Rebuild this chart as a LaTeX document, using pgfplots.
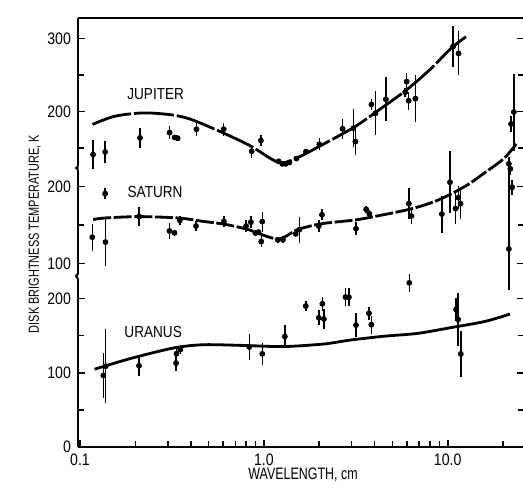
\documentclass[border=0pt]{standalone}
\usepackage{fontspec}
\setmainfont{Liberation Sans}[FakeStretch=0.85]
\newfontfamily\condfont{Liberation Sans}[FakeStretch=0.75]
\usepackage{pgfplots}
\pgfplotsset{compat=1.18}

\pgfplotsset{
  every axis/.append style={scale only axis, width=223pt,
    clip=false, anchor=south west,
    axis line style={line width=1.05pt,-}, tick align=inside,
    major tick length=3.5pt, minor tick length=3pt,
    tick style={black,line width=0.8pt}, yticklabel pos=left,
    tick label style={font=\fontsize{8.3}{9}\selectfont},
    /pgf/number format/assume math mode=true},
  crv/.style={black, line width=1.4pt, smooth, tension=0.5, no marks},
  pts/.style={black, only marks, mark=*, mark size=1.25pt,
    error bars/y dir=both, error bars/y explicit, error bars/error mark=none,
    error bars/error bar style={line width=0.75pt}},
}
\tikzset{brk/.style={line width=1.05pt}}

\begin{document}
\begin{tikzpicture}
\useasboundingbox (0,0) rectangle (261.5pt,244pt);

% jupiter
\begin{axis}[xmode=log, xmin=0.0975, xmax=26, at={(39pt,160.8pt)}, height=74pt, ymin=125, ymax=327.5,
  axis x line*=top, axis y line*=box, xtick=\empty,
  ytick={200,300}, minor ytick={150,250}]
\addplot[crv, dash pattern=on 20pt off 1.5pt] coordinates {(0.117,182.5) (0.155,193.7) (0.222,198.2) (0.317,195.4) (0.406,188.9) (0.612,169.9) (0.85,152.7) (1.2,130.5) (1.485,135.7) (2.046,153.7) (3.131,179.4) (4.41,205.6) (5.96,229.5) (8.05,258) (10.45,286.8) (12.85,304.2)};
\addplot[pts] coordinates {
 (0.1178,141.2) +- (0,19.5) (0.137,144.8) +- (0,15) (0.212,164) +- (0,13.7)
 (0.307,171.2) +- (0,9) (0.327,164.6) +- (0,4) (0.340,163.5) +- (0,4)
 (0.430,175.9) +- (0,9) (0.605,176) +- (0,9) (0.859,145.7) +- (0,9)
 (0.963,160.4) +- (0,8) (1.203,132) +- (0,3) (1.26,128.5) +- (0,3)
 (1.314,128.5) +- (0,3) (1.376,130.3) +- (0,3) (1.503,135.7) +- (0,3)
 (1.695,145.3) +- (0,4) (2.003,155.2) +- (0,8) (2.68,176.4) +- (0,13.7)
 (3.064,177.2) +- (0,26) (3.147,158.9) +- (0,18) (3.846,209.8) +- (0,8)
 (4.045,197.7) +- (0,30) (4.61,216.8) +- (0,30) (5.87,226.4) +- (0,6)
 (5.98,241) +- (0,12) (6.13,214.8) +- (0,12) (6.67,217.7) +- (0,32)
 (10.69,288.9) +- (0,28) (11.45,279.6) +- (0,30)};
\node[font=\fontsize{8}{9}\selectfont] at (axis cs:0.258,223.7) {JUPITER};
\draw[brk] (rel axis cs:0,0) to[out=-90,in=45] ++(-1.2pt,-1.2pt);
\end{axis}

% saturn
\begin{axis}[xmode=log, xmin=0.0975, xmax=26, at={(39pt,107.2pt)}, height=52pt, ymin=87, ymax=222,
  axis x line=none, axis y line*=box,
  ytick={100,200}, minor ytick={150}]
\addplot[crv, dash pattern=on 9pt off 1.3pt] coordinates {(0.118,157.2) (0.137,159.2) (0.2095,161) (0.343,159.2) (0.458,155.1) (0.613,151) (0.818,144.3) (1.187,132) (1.53,144.2) (2.056,151.7) (3.13,156.6) (4.03,161.3) (6.39,171.3) (8.98,183) (12.63,201.3) (16.3,219.8) (20.2,236.3) (23.6,255.2)};
\addplot[pts] coordinates {
 (0.1166,134.3) +- (0,17.4) (0.137,190.8) +- (0,7.6) (0.1375,128) +- (0,31)
 (0.2095,161) +- (0,12.3) (0.3066,142.3) +- (0,10) (0.3266,139.9) +- (0,4)
 (0.349,156.1) +- (0,6) (0.4274,148.8) +- (0,6.5) (0.606,154.9) +- (0,7)
 (0.80,148.7) +- (0,8) (0.85,153.8) +- (0,7.5) (0.90,139.6) +- (0,4)
 (0.935,140.8) +- (0,4) (0.98,154.5) +- (0,13) (0.968,128.6) +- (0,7)
 (1.19,130.8) +- (0,4) (1.27,130.9) +- (0,4) (1.49,138.6) +- (0,4)
 (1.56,144) +- (0,17) (1.99,148.7) +- (0,8) (2.07,163.4) +- (0,7)
 (3.17,145.3) +- (0,8.5) (3.6,170.4) +- (0,5) (3.75,164.5) +- (0,5)
 (6.15,177.9) +- (0,20) (6.35,161.8) +- (0,11) (9.29,164.3) +- (0,24)
 (10.29,205.6) +- (0,40) (11.03,171.4) +- (0,20) (11.41,185.6) +- (0,15)
 (11.74,177.8) +- (0,20) (22.9,296.7) +- (0,50) (22.1,281.4) +- (0,10)
 (21.5,229.6) +- (0,8) (21.9,223) +- (0,8) (22.4,199.1) +- (0,10)
 (21.5,119) += (0,119) -= (0,53)};
\node[font=\fontsize{8}{9}\selectfont] at (axis cs:0.256,192.5) {SATURN};
\draw[brk] (rel axis cs:0,1) to[out=90,in=-45] ++(-1.2pt,1.2pt);
\draw[brk] (rel axis cs:0,0) to[out=-90,in=45] ++(-1.2pt,-1.2pt);
\end{axis}

% uranus
\begin{axis}[xmode=log, xmin=0.0975, xmax=26, at={(39pt,20.65pt)}, height=84pt, ymin=0, ymax=227,
  axis x line*=bottom, axis y line*=box,
  xtick={0.1,1,10}, xticklabels={0.1,1.0,10.0},
  minor xtick={0.2,0.3,0.4,0.5,0.6,0.7,0.8,0.9,2,3,4,5,6,7,8,9,20},
  ytick={0,100,200}, minor ytick={50,150}]
\addplot[crv] coordinates {(0.12,104.7) (0.1866,118.9) (0.323,133.4) (0.471,137.8) (0.778,136.8) (1.28,135.3) (2.12,138.8) (2.97,144.2) (4.51,149.3) (6.85,153.1) (10.45,161) (15.9,169.2) (21.8,179.2)};
\addplot[pts] coordinates {
 (0.134,96.2) +- (0,31) (0.138,108.8) +- (0,50) (0.2094,109.3) +- (0,14)
 (0.333,113) +- (0,11) (0.335,125.7) +- (0,6) (0.351,131.2) +- (0,6)
 (0.833,134.7) +- (0,17) (0.98,125.5) +- (0,14.6) (1.3,148.9) +- (0,15.7)
 (1.69,190.1) +- (0,7) (1.99,174.2) +- (0,10) (2.08,193) +- (0,9)
 (2.12,172.6) +- (0,13) (2.78,202.2) +- (0,12) (2.9,202) +- (0,12)
 (3.17,164.2) +- (0,16) (3.73,180.3) +- (0,9) (3.84,164.9) +- (0,12)
 (6.18,221.4) +- (0,12) (11.1,185.5) +- (0,16) (11.39,171.9) +- (0,36)
 (11.78,125.3) +- (0,31.5)};
\node[font=\fontsize{8}{9}\selectfont] at (axis cs:0.25,155.5) {URANUS};
\draw[brk] (rel axis cs:0,1) to[out=90,in=-45] ++(-1.2pt,1.2pt);
\end{axis}

\node[rotate=90, font=\condfont\fontsize{7.3}{9}\selectfont] at (17.3pt,127pt) {DISK BRIGHTNESS TEMPERATURE, K};
\node[font=\condfont\fontsize{8.3}{9}\selectfont] at (151.5pt,6.5pt) {WAVELENGTH, cm};
\end{tikzpicture}
\end{document}
